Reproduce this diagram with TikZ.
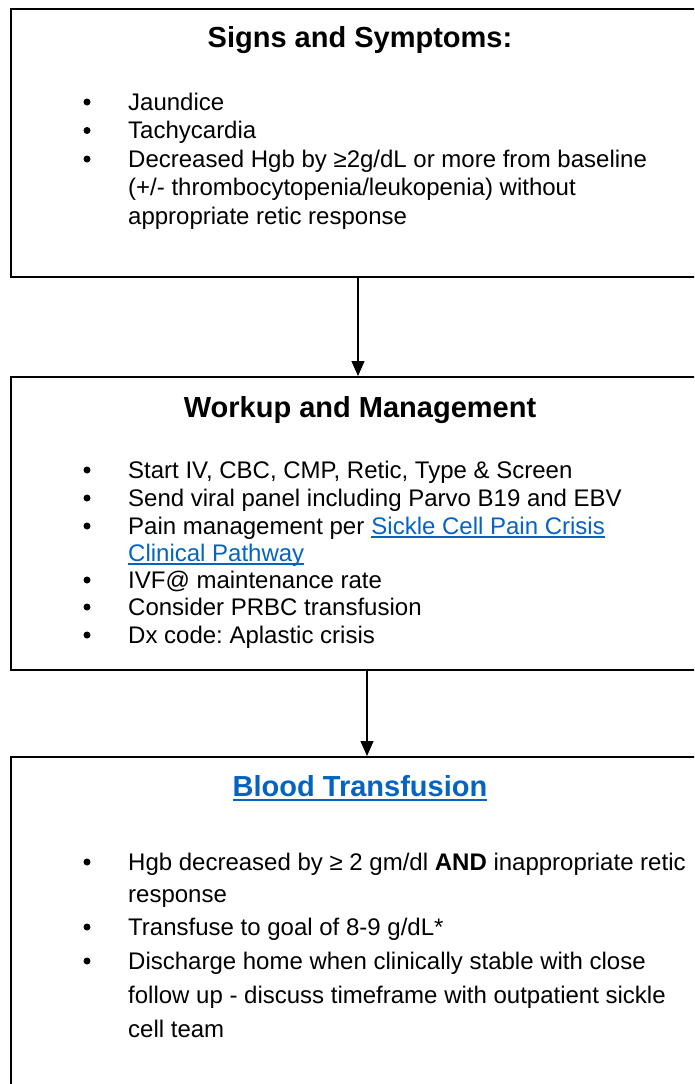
\documentclass[tikz,border=0pt]{standalone}
\usepackage{fontspec}
\setmainfont{Liberation Sans}
\usetikzlibrary{arrows.meta}
\definecolor{linkblue}{HTML}{0563C1}
\frenchspacing
\begin{document}
\begin{tikzpicture}[x=1pt,y=-1pt,
  box/.style={draw=black, line width=2pt, rectangle, inner sep=0pt},
  ttl/.style={font=\fontsize{29}{34}\selectfont\bfseries, anchor=base, inner sep=0pt},
  body/.style={font=\fontsize{24}{29}\selectfont, anchor=base west, inner sep=0pt},
  link/.style={text=linkblue},
  uline/.style={draw=linkblue, line width=1.4pt},
  dot/.style={circle, fill=black, inner sep=0pt, minimum size=7pt},
  conn/.style={draw=black, line width=1.1pt, -{Triangle[length=15pt,width=13pt]}}]
\useasboundingbox (0,0) rectangle (694,1084);
\clip (0,0) rectangle (694,1084);
% boxes
\node[box, minimum width=699pt, minimum height=268pt] (b1) at (360.5,143) {};
\node[box, minimum width=699pt, minimum height=293pt] (b2) at (360.5,523.5) {};
\node[box, minimum width=699pt, minimum height=343pt] (b3) at (360.5,928.5) {};
% connectors
\coordinate (a1) at (358,0);
\coordinate (a2) at (367,0);
\draw[conn] (b1.south -| a1) -- (b2.north -| a1);
\draw[conn] (b2.south -| a2) -- (b3.north -| a2);
% box 1
\node[ttl] (t1) at (360,47) {Signs and Symptoms:};
\node[dot] (d1a) at (87,102) {};
\node[body] (l1a) at (128,110) {Jaundice};
\node[dot] (d1b) at (87,130.5) {};
\node[body] (l1b) at (128,138.5) {Tachycardia};
\node[dot] (d1c) at (87,159) {};
\node[body] (l1c) at (128,167) {Decreased Hgb by ≥2g/dL or more from baseline};
\node[body] (l1d) at (128,195.5) {(+/- thrombocytopenia/leukopenia) without};
\node[body] (l1e) at (128,224) {appropriate retic response};
% box 2
\node[ttl] (t2) at (360,417) {Workup and Management};
\node[dot] (d2a) at (87,470) {};
\node[body] (l2a) at (128,478) {Start IV, CBC, CMP, Retic, Type \& Screen};
\node[dot] (d2b) at (87,498) {};
\node[body] (l2b) at (128,506) {Send viral panel including Parvo B19 and EBV};
\node[dot] (d2c) at (87,526) {};
\node[body] (l2c) at (128,534) {Pain management per};
\node[body, link] (l2c2) at ([xshift=6.7pt]l2c.base east) {Sickle Cell Pain Crisis};
\node[body, link] (l2d) at (128,561) {Clinical Pathway};
\draw[uline] ([yshift=-3pt]l2c2.base west) -- ([yshift=-3pt]l2c2.base east);
\draw[uline] ([yshift=-3pt]l2d.base west) -- ([yshift=-3pt]l2d.base east);
\node[dot] (d2e) at (87,580) {};
\node[body] (l2e) at (128,588) {IVF@ maintenance rate};
\node[dot] (d2f) at (87,607) {};
\node[body] (l2f) at (128,615) {Consider PRBC transfusion};
\node[dot] (d2g) at (87,635) {};
\node[body] (l2g) at (128,643) {Dx code: Aplastic crisis};
% box 3
\node[ttl, link] (t3) at (360,796) {Blood Transfusion};
\draw[uline, line width=2pt] ([yshift=-4pt]t3.base west) -- ([yshift=-4pt]t3.base east);
\node[dot] (d3a) at (87,862) {};
\node[body] (l3a) at (128,870) {Hgb decreased by ≥ 2 gm/dl \textbf{AND} inappropriate retic};
\node[body] (l3b) at (128,902) {response};
\node[dot] (d3c) at (87,927) {};
\node[body] (l3c) at (128,935) {Transfuse to goal of 8-9 g/dL*};
\node[dot] (d3d) at (87,961) {};
\node[body] (l3d) at (128,969) {Discharge home when clinically stable with close};
\node[body] (l3e) at (128,1003) {follow up - discuss timeframe with outpatient sickle};
\node[body] (l3f) at (128,1037) {cell team};
\end{tikzpicture}
\end{document}
